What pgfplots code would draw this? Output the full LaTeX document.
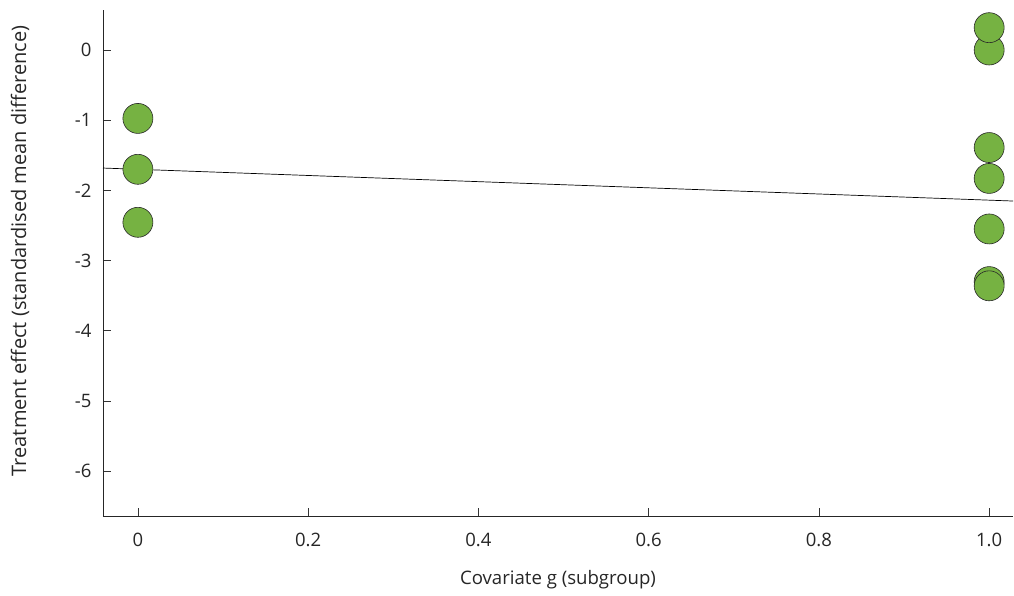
\documentclass[border=0pt]{standalone}
\usepackage{pgfplots}
\pgfplotsset{compat=1.18}
\usepackage{fontspec}
\setmainfont{Open Sans}
\definecolor{ptgreen}{RGB}{118,178,66}
\definecolor{edge}{RGB}{40,40,40}
\begin{document}
\begin{tikzpicture}[x=1pt,y=1pt]
\useasboundingbox (0,0) rectangle (1014,596);
\begin{axis}[
  at={(103pt,80pt)}, anchor=south west,
  scale only axis, width=910pt, height=506pt,
  xmin=-0.041, xmax=1.028, ymin=-6.64, ymax=0.57,
  axis lines=left, axis line style={-, line width=0.9pt, color=black!85},
  tick align=inside, major tick length=8pt,
  tick style={line width=0.6pt, color=black!80},
  xtick={0,0.2,0.4,0.6,0.8,1}, xticklabels={0,0.2,0.4,0.6,0.8,1.0},
  ytick={-6,-5,-4,-3,-2,-1,0}, yticklabels={-6,-5,-4,-3,-2,-1,0},
  ticklabel style={font=\fontsize{18.5}{22}\selectfont, color=black!85},
  xticklabel style={yshift=-14pt},
  yticklabel style={xshift=-8pt},
  xlabel={Covariate g (subgroup)}, ylabel={Treatment effect (standardised mean difference)},
  xlabel style={font=\fontsize{18.6}{22}\selectfont, color=black!85, at={(axis description cs:0.5,0)}, anchor=center, yshift=-64pt},
  ylabel style={font=\fontsize{20}{24}\selectfont, color=black!85, at={(axis description cs:0,0.5)}, anchor=center, yshift=83pt, xshift=12pt},
  clip=false,
]
\addplot[black, line width=0.7pt] coordinates {(-0.041,-1.682) (1.028,-2.152)};
\addplot[only marks, mark=*, mark size=15pt, mark options={fill=ptgreen, draw=edge, line width=0.6pt}] coordinates {
(0,-0.975) (0,-1.70) (0,-2.455)
(1,-3.30) (1,-3.36) (1,-2.55) (1,-1.83) (1,-1.39) (1,0.0) (1,0.318)
};
\end{axis}
\end{tikzpicture}
\end{document}
